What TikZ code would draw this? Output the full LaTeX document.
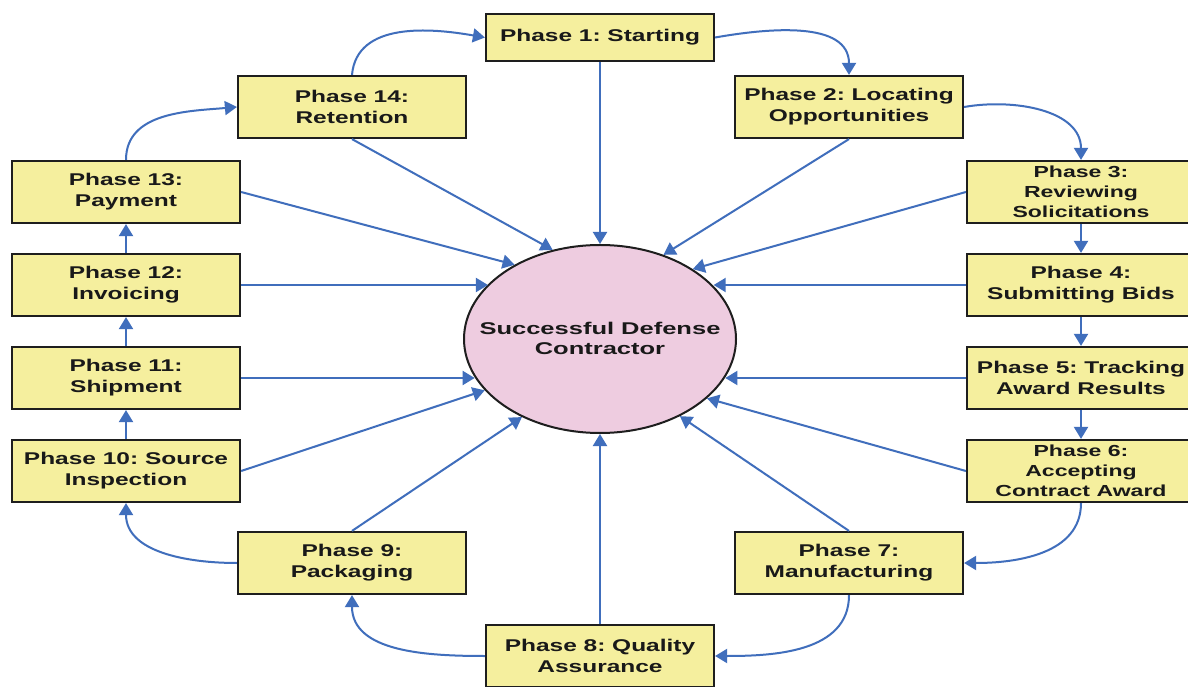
\documentclass[tikz,border=0pt]{standalone}
\usepackage{fontspec}
\newfontfamily\phfont{Liberation Sans}[FakeStretch=1.44]
\newfontfamily\cfont{Liberation Sans}[FakeStretch=1.5]
\usetikzlibrary{arrows.meta,shapes.geometric}
\definecolor{boxfill}{RGB}{245,239,158}
\definecolor{circfill}{RGB}{238,204,224}
\definecolor{conn}{RGB}{64,110,188}
\definecolor{edgecol}{RGB}{30,30,30}
\definecolor{txt}{RGB}{25,25,25}
\frenchspacing
\begin{document}
\begin{tikzpicture}[x=1pt,y=1pt,
  phase/.style={draw=edgecol, line width=2.2pt, fill=boxfill, rectangle,
    minimum width=228pt, minimum height=62pt, inner sep=0pt, align=center,
    text=txt, font=\frenchspacing\phfont\bfseries\fontsize{17}{21}\selectfont},
  phasethree/.style={phase, font=\frenchspacing\phfont\bfseries\fontsize{16}{20}\selectfont},
  hub/.style={ellipse, draw=edgecol, line width=2pt, fill=circfill,
    minimum width=272pt, minimum height=188pt, inner sep=0pt},
  hubtext/.style={align=center, text=txt, inner sep=0pt,
    font=\frenchspacing\cfont\bfseries\fontsize{17}{20}\selectfont},
  link/.style={draw=conn, line width=2pt, -{Triangle[length=12pt,width=14pt]}},
]
\useasboundingbox[fill=white] (0,0) rectangle (1188,686);

\node[hub] (c) at (600,347) {};
\node[hubtext] (ct) at (600,348) {Successful Defense\\Contractor};

\node[phase, minimum height=47pt] (p1) at (600,648.5) {Phase 1: Starting};
\node[phase] (p2) at (849,579) {Phase 2: Locating\\Opportunities};
\node[phasethree] (p3) at (1081,494) {Phase 3:\\Reviewing\\Solicitations};
\node[phase] (p4) at (1081,401) {Phase 4:\\Submitting Bids};
\node[phase] (p5) at (1081,308) {Phase 5: Tracking\\Award Results};
\node[phasethree] (p6) at (1081,215) {Phase 6:\\Accepting\\Contract Award};
\node[phase] (p7) at (849,123) {Phase 7:\\Manufacturing};
\node[phase] (p8) at (600,30) {Phase 8: Quality\\Assurance};
\node[phase] (p9) at (352,123) {Phase 9:\\Packaging};
\node[phase] (p10) at (126,215) {Phase 10: Source\\Inspection};
\node[phase] (p11) at (126,308) {Phase 11:\\Shipment};
\node[phase] (p12) at (126,401) {Phase 12:\\Invoicing};
\node[phase] (p13) at (126,494) {Phase 13:\\Payment};
\node[phase] (p14) at (352,579) {Phase 14:\\Retention};

% spokes to the hub
\draw[link] (p1.south) -- (c.north);
\draw[link] (p2.south) -- (c.53);
\draw[link] (p3.west) -- (c.37);
\draw[link] (p4.west) -- (p4.west -| c.25.9);
\draw[link] (p5.west) -- (p5.west -| c.-17.5);
\draw[link] (p6.west) -- (c.-29);
\draw[link] (p7.north) -- (c.-44);
\draw[link] (p8.north) -- (c.south);
\draw[link] (p9.north) -- (c.225);
\draw[link] (p10.east) -- (c.204);
\draw[link] (p11.east) -- (p11.east -| c.197.5);
\draw[link] (p12.east) -- (p12.east -| c.154.1);
\draw[link] (p13.east) -- (c.139);
\draw[link] (p14.south) -- (c.118);

% cycle
\draw[link] (p1.east) to[out=10,in=90] (p2.north);
\draw[link] (p2.east) to[out=10,in=90] (p3.north);
\draw[link] (p3) -- (p4);
\draw[link] (p4) -- (p5);
\draw[link] (p5) -- (p6);
\draw[link] (p6.south) to[out=-90,in=0] (p7.east);
\draw[link] (p7.south) to[out=-90,in=0] (p8.east);
\draw[link] (p8.west) to[out=180,in=-90] (p9.south);
\draw[link] (p9.west) to[out=180,in=-90] (p10.south);
\draw[link] (p10) -- (p11);
\draw[link] (p11) -- (p12);
\draw[link] (p12) -- (p13);
\draw[link] (p13.north) to[out=90,in=185] (p14.west);
\draw[link] (p14.north) to[out=85,in=170] (p1.west);
\end{tikzpicture}
\end{document}
